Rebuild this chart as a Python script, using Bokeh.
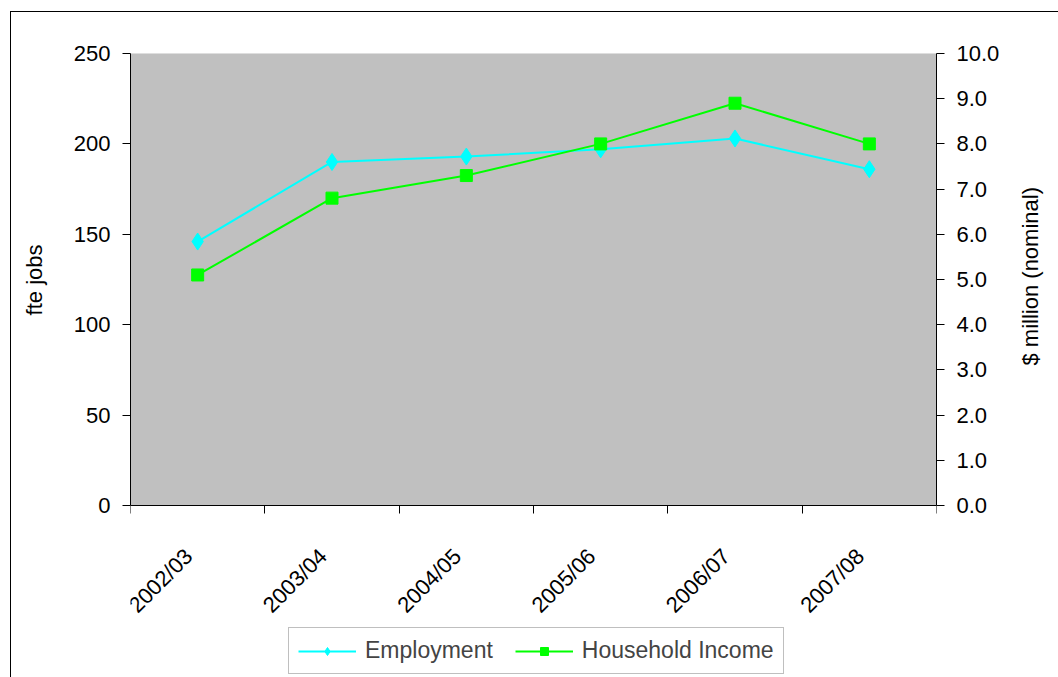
import math
from bokeh.plotting import figure
from bokeh.models import (Range1d, LinearAxis, FixedTicker, Legend, LegendItem,
                          PrintfTickFormatter, BoxAnnotation)
from bokeh.core.properties import value
from bokeh.embed import file_html
from bokeh.resources import INLINE

# ---- data ----
years = ["2002/03", "2003/04", "2004/05", "2005/06", "2006/07", "2007/08"]
employment = [146, 190, 193, 197, 203, 186]
household_income = [5.1, 6.8, 7.3, 8.0, 8.9, 8.0]
left_ticks = [0, 50, 100, 150, 200, 250]
right_ticks = [0, 1, 2, 3, 4, 5, 6, 7, 8, 9, 10]
LEFT_MAX = 250
RIGHT_MAX = 10
left_title = "fte jobs"
right_title = "$ million (nominal)"

xc = [i + 0.5 for i in range(len(years))]
bounds = list(range(len(years) + 1))

# ---- layout (pixels) ----
FONT = "Liberation Sans"
FS = "22px"
PLOT_H = 452          # height of the grey plot area
BELOW = 172           # white space kept inside the frame under the plot area
FRAME_H = PLOT_H + BELOW
lo_left = -BELOW * LEFT_MAX / PLOT_H
lo_right = -BELOW * RIGHT_MAX / PLOT_H
PAD = "\u00a0" * 28   # shifts the axis title to the middle of the grey area

p = figure(frame_width=806, frame_height=FRAME_H, x_range=Range1d(0, len(years)),
           y_range=Range1d(lo_left, LEFT_MAX),
           output_backend="svg", toolbar_location=None,
           min_border_left=119, min_border_top=41, min_border_right=120, min_border_bottom=0,
           x_axis_location=None, y_axis_location=None)
p.styles = {"border-left": "1px solid black", "border-top": "1px solid black",
            "margin-left": "10px", "margin-top": "11px"}
p.background_fill_color = "white"
p.border_fill_color = "white"
p.outline_line_color = None
p.xgrid.visible = False
p.ygrid.visible = False
p.extra_y_ranges = {"inc": Range1d(lo_right, RIGHT_MAX)}

# grey plot area
p.add_layout(BoxAnnotation(left=0, right=len(years), bottom=0, top=LEFT_MAX,
                           fill_color="#C0C0C0", fill_alpha=1.0,
                           line_color="#808080", line_width=1, level="underlay"))

# left axis
ya = LinearAxis(ticker=FixedTicker(ticks=left_ticks, minor_ticks=[]),
                axis_label=PAD + left_title, bounds=(0, LEFT_MAX))
ya.major_tick_out = 8
ya.major_tick_in = 0
ya.major_label_standoff = 12
ya.axis_label_standoff = 24
# right axis
yb = LinearAxis(y_range_name="inc", ticker=FixedTicker(ticks=right_ticks, minor_ticks=[]),
                formatter=PrintfTickFormatter(format="%.1f"), bounds=(0, RIGHT_MAX))
try:
    yb.axis_label_orientation = math.pi / 2   # read bottom-to-top like the reference
    yb.axis_label = right_title
except Exception:
    yb.axis_label = right_title + PAD
yb.major_tick_out = 8
yb.major_tick_in = 0
yb.major_label_standoff = 12
yb.axis_label_standoff = 28
# x axis drawn at y = 0 (tick marks between categories)
xa = LinearAxis(ticker=FixedTicker(ticks=bounds, minor_ticks=[]), fixed_location=0)
xa.major_tick_out = 8
xa.major_tick_in = 0
xa.major_label_text_font_size = "0px"
xa.major_label_text_alpha = 0

for ax in (ya, yb):
    ax.major_label_text_font = FONT
    ax.major_label_text_font_size = FS
    ax.major_label_text_color = "black"
    ax.axis_label_text_font = FONT
    ax.axis_label_text_font_size = FS
    ax.axis_label_text_font_style = "normal"
    ax.axis_label_text_color = "black"
for ax in (ya, yb, xa):
    ax.axis_line_color = "black"
    ax.major_tick_line_color = "black"

p.add_layout(ya, "left")
p.add_layout(yb, "right")
p.add_layout(xa, "below")

# category labels, rotated 45 degrees under the axis
p.text(x=xc, y=[0] * len(years), text=years, angle=math.pi / 4,
       text_align="right", text_baseline="middle", x_offset=-9, y_offset=47,
       text_font=value(FONT), text_font_size=value(FS), text_color="black")

l1 = p.line(xc, employment, line_color="#00FFFF", line_width=2)
s1 = p.scatter(xc, employment, marker="diamond", size=17, fill_color="#00FFFF", line_color="#00FFFF")
l2 = p.line(xc, household_income, y_range_name="inc", line_color="#00FF00", line_width=2)
s2 = p.scatter(xc, household_income, y_range_name="inc", marker="square", size=12,
               fill_color="#00FF00", line_color="#00FF00")

legend = Legend(items=[LegendItem(label="Employment", renderers=[l1, s1]),
                       LegendItem(label="Household Income", renderers=[l2, s2])],
                orientation="horizontal", location=(158, 3))
legend.label_text_font = FONT
legend.label_text_font_size = "23px"
legend.border_line_color = "#808080"
legend.border_line_width = 1
legend.background_fill_color = "white"
legend.glyph_width = 58
legend.spacing = 22
legend.padding = 9
legend.margin = 0
legend.label_standoff = 9
p.add_layout(legend, "center")

open("out.html", "w").write(file_html(p, INLINE))
